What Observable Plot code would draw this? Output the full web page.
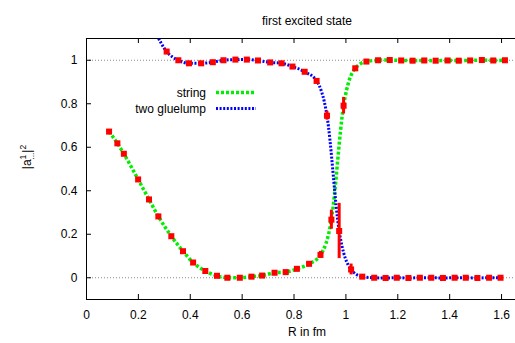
<!DOCTYPE html>
<html><head><meta charset="utf-8">
<script src="https://cdn.jsdelivr.net/npm/d3@7"></script>
<script src="https://cdn.jsdelivr.net/npm/@observablehq/plot@0.6"></script>
<style>html,body{margin:0;padding:0;background:#fff;overflow:hidden;width:515px;height:343px}#chart svg{max-width:none !important;height:343px !important}</style>
</head><body><div id="chart"></div>
<script>
const titleText = "first excited state";
const xLabelText = "R in fm";
const xTicks = [0, 0.2, 0.4, 0.6, 0.8, 1, 1.2, 1.4, 1.6];
const xTickLabels = ["0", "0.2", "0.4", "0.6", "0.8", "1", "1.2", "1.4", "1.6"];
const yTicks = [0, 0.2, 0.4, 0.6, 0.8, 1];
const yTickLabels = ["0", "0.2", "0.4", "0.6", "0.8", "1"];
const gridValues = [0, 1];
const seriesNames = ["string", "two gluelump"];

const stringR = [0.087, 0.119, 0.144, 0.199, 0.241, 0.277, 0.327, 0.372, 0.411, 0.458, 0.503, 0.543, 0.591, 0.636, 0.677, 0.725, 0.768, 0.811, 0.858, 0.902, 0.944, 0.991, 1.036, 1.079, 1.124, 1.169, 1.213, 1.257, 1.302, 1.346, 1.392, 1.435, 1.479, 1.524, 1.568, 1.613];
const stringV = [0.672, 0.618, 0.570, 0.452, 0.360, 0.282, 0.191, 0.122, 0.070, 0.031, 0.009, 0.000, 0.000, 0.005, 0.010, 0.023, 0.026, 0.041, 0.064, 0.105, 0.267, 0.791, 0.963, 0.994, 1.000, 1.001, 0.999, 0.998, 0.999, 0.998, 0.999, 0.998, 0.999, 1.001, 0.999, 1.000];
const stringErr = [0, 0, 0, 0, 0, 0, 0, 0, 0, 0, 0, 0, 0, 0, 0, 0, 0, 0, 0, 0.016, 0.044, 0.038, 0, 0, 0, 0, 0, 0, 0, 0, 0, 0, 0, 0, 0, 0];

const gluelumpR = [0.265, 0.309, 0.354, 0.395, 0.442, 0.487, 0.528, 0.574, 0.618, 0.661, 0.708, 0.752, 0.794, 0.841, 0.887, 0.927, 0.974, 1.020, 1.063, 1.109, 1.153, 1.196, 1.241, 1.285, 1.329, 1.374, 1.419, 1.462, 1.507, 1.552, 1.596];
const gluelumpV = [1.13, 1.040, 1.000, 0.986, 0.986, 0.991, 1.000, 1.003, 1.003, 0.999, 0.990, 0.986, 0.971, 0.947, 0.905, 0.745, 0.215, 0.038, 0.005, 0.000, -0.001, 0.000, -0.001, 0.000, 0.000, -0.001, 0.000, 0.000, -0.001, 0.000, 0.000];
const gluelumpErr = [0, 0, 0, 0, 0, 0, 0, 0, 0, 0, 0, 0, 0, 0, 0, 0.02, 0.127, 0.025, 0, 0, 0, 0, 0, 0, 0, 0, 0, 0, 0, 0, 0];

const stringData = stringR.map((r, i) => ({R: r, v: stringV[i], e: stringErr[i]}));
const gluelumpData = gluelumpR.map((r, i) => ({R: r, v: gluelumpV[i], e: gluelumpErr[i]}));
const allPoints = stringData.concat(gluelumpData);
const errData = allPoints.filter(d => d.e > 0);

const green = "#00ee00", blue = "#0000ff", red = "#ff0000";
const styles = [
  {color: green, width: 3.5, dash: "3,2"},
  {color: blue, width: 3, dash: "2,1.6"}
];

const chart = Plot.plot({
  width: 530, height: 343,
  marginLeft: 86, marginRight: 3, marginTop: 38, marginBottom: 44,
  x: {domain: [0, 1.7]},
  y: {domain: [-0.1, 1.1]},
  style: {fontFamily: "'Liberation Sans', Arial, sans-serif", fontSize: "12px", background: "white", color: "black", maxWidth: "none"},
  marks: [
    Plot.ruleY(gridValues, {stroke: "#888", strokeWidth: 1, strokeDasharray: "1,2"}),
    Plot.line(stringData, {x: "R", y: "v", curve: "monotone-x", stroke: styles[0].color, strokeWidth: styles[0].width, strokeDasharray: styles[0].dash, strokeLinecap: "butt", strokeLinejoin: "miter", clip: true}),
    Plot.line(gluelumpData, {x: "R", y: "v", curve: "monotone-x", stroke: styles[1].color, strokeWidth: styles[1].width, strokeDasharray: styles[1].dash, strokeLinecap: "butt", strokeLinejoin: "miter", clip: true}),
    Plot.ruleX(errData, {x: "R", y1: d => d.v - d.e, y2: d => d.v + d.e, stroke: red, strokeWidth: 3, clip: true}),
    Plot.dot(allPoints, {x: "R", y: "v", symbol: "square", r: 3.4, fill: red, stroke: null, clip: true}),
    Plot.tickX(xTicks, {x: d => d, insetTop: 256, stroke: "black"}),
    Plot.tickX(xTicks, {x: d => d, insetBottom: 256, stroke: "black"}),
    Plot.tickY(yTicks, {y: d => d, insetRight: 436, stroke: "black"}),
    Plot.frame({stroke: "black", strokeWidth: 1}),
    Plot.axisX(xTicks, {tickSize: 0, tickPadding: 11, label: null, tickFormat: d => xTickLabels[xTicks.indexOf(d)]}),
    Plot.axisY(yTicks, {tickSize: 0, tickPadding: 9, label: null, tickFormat: d => yTickLabels[yTicks.indexOf(d)]}),
    Plot.text([titleText], {text: d => d, frameAnchor: "top", dy: -22}),
    Plot.text([xLabelText], {text: d => d, frameAnchor: "bottom", dy: 36})
  ]
});
document.getElementById("chart").appendChild(chart);

const svg = d3.select(chart);
// legend
seriesNames.forEach((name, i) => {
  const y = 92.5 + i * 16;
  svg.append("text").attr("x", 206).attr("y", y).attr("dy", "0.35em")
    .attr("text-anchor", "end").attr("fill", "black").text(name);
  svg.append("line").attr("x1", 216).attr("x2", 256).attr("y1", y).attr("y2", y)
    .attr("stroke", styles[i].color).attr("stroke-width", styles[i].width)
    .attr("stroke-dasharray", styles[i].dash);
});
// y-axis label |a^1_...|^2
const yl = svg.append("text").attr("transform", "translate(31,157) rotate(-90)")
  .attr("text-anchor", "middle").attr("fill", "black").attr("font-size", 12);
yl.append("tspan").text("|a");
yl.append("tspan").attr("dy", -5).attr("font-size", 8.5).text("1");
yl.append("tspan").attr("dx", -5).attr("dy", 8).attr("font-size", 8.5).text("...");
yl.append("tspan").attr("dy", -3).text("|");
yl.append("tspan").attr("dy", -5).attr("font-size", 8.5).text("2");
</script>
</body></html>
